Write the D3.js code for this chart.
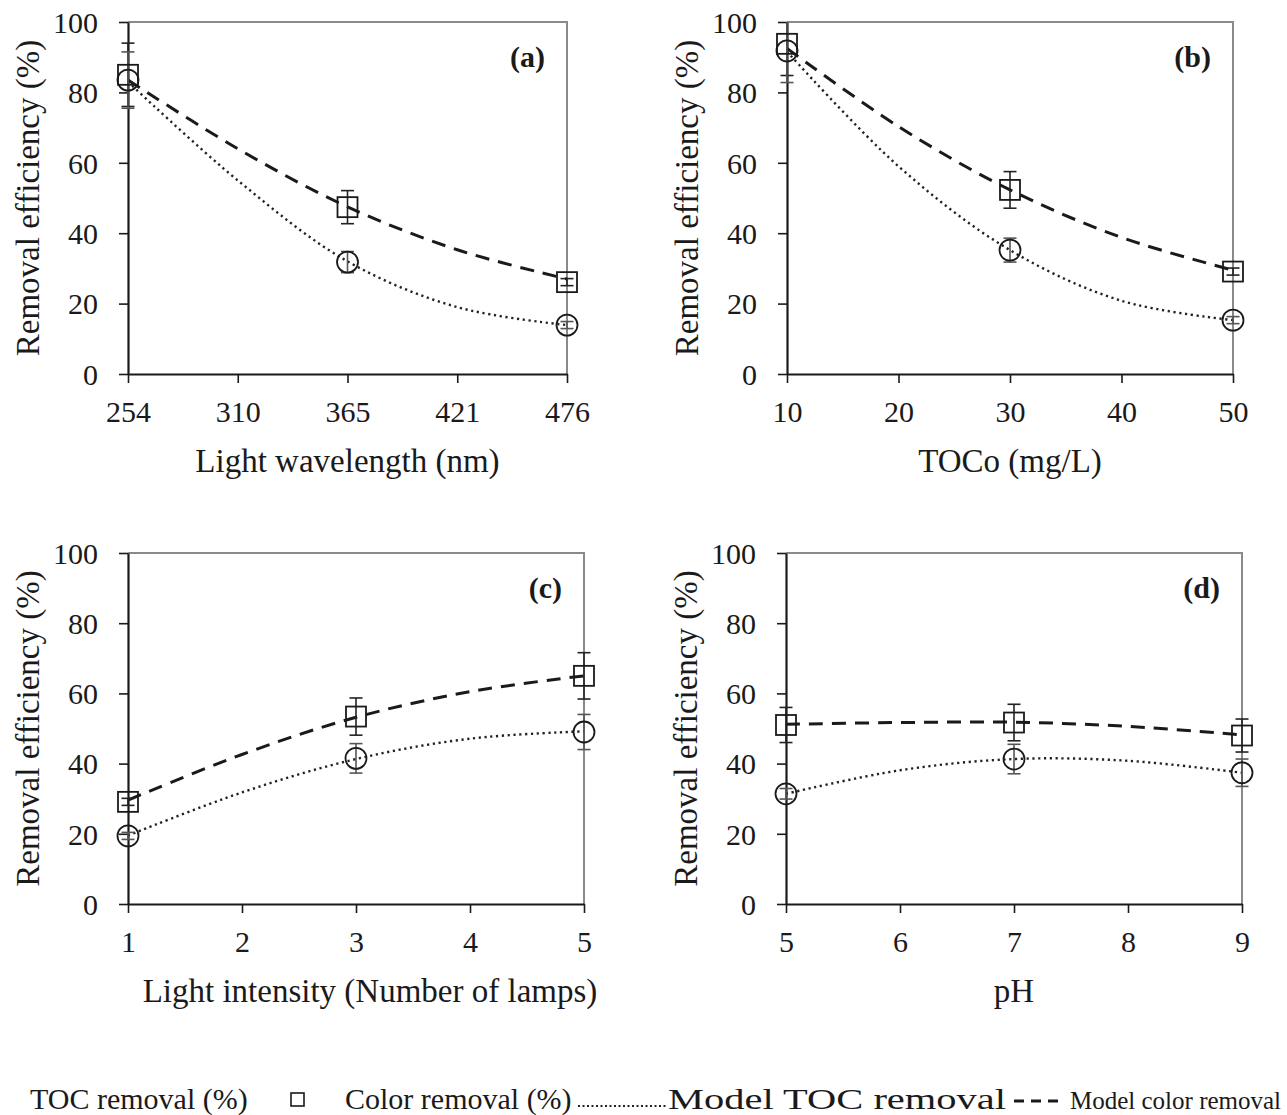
<!DOCTYPE html>
<html>
<head>
<meta charset="utf-8">
<script src="https://cdn.jsdelivr.net/npm/d3@7"></script>
<style>
  html, body { margin: 0; padding: 0; background: #fff; }
  svg { display: block; }
  svg text { font-family: "Liberation Serif", "Times New Roman", serif; }
</style>
</head>
<body>
<svg id="chart" width="1287" height="1115"></svg>
<script>
// ---------- DATA ----------
const yTicks = [0, 20, 40, 60, 80, 100];

// (a) Light wavelength
const xA = [254, 365, 476];
const tocA = [83.5, 31.8, 13.9];
const tocErrA = [8, 3, 1];
const colorA = [85, 47.4, 26.1];
const colorErrA = [9, 4.7, 1];
const modelXA = [254, 309.5, 365, 420.5, 476];
const modelTocA = [83.0, 55.0, 32.0, 19.0, 13.9];
const modelColorA = [83.5, 64.0, 47.5, 35.3, 27.0];
const tickValsA = [254, 309.5, 365, 420.5, 476];
const tickLabelsA = ["254", "310", "365", "421", "476"];

// (b) TOCo
const xB = [10, 30, 50];
const tocB = [91.8, 35.2, 15.3];
const tocErrB = [9, 3.4, 1];
const colorB = [93.8, 52.3, 29.1];
const colorErrB = [9, 5.2, 1];
const modelXB = [10, 20, 30, 40, 50];
const modelTocB = [91.6, 59.0, 35.2, 20.8, 15.3];
const modelColorB = [92.5, 70.3, 52.3, 38.8, 29.5];
const tickValsB = [10, 20, 30, 40, 50];
const tickLabelsB = ["10", "20", "30", "40", "50"];

// (c) Light intensity
const xC = [1, 3, 5];
const tocC = [19.4, 41.5, 49.0];
const tocErrC = [1, 4.2, 5];
const colorC = [29.1, 53.4, 65.0];
const colorErrC = [1, 5.3, 6.6];
const modelXC = [1, 2, 3, 4, 5];
const modelTocC = [19.5, 31.8, 41.3, 47.1, 49.2];
const modelColorC = [29.6, 42.6, 53.2, 60.5, 65.0];
const tickValsC = [1, 2, 3, 4, 5];
const tickLabelsC = ["1", "2", "3", "4", "5"];

// (d) pH
const xD = [5, 7, 9];
const tocD = [31.4, 41.3, 37.4];
const tocErrD = [1.5, 4.2, 3.9];
const colorD = [51.0, 51.7, 48.0];
const colorErrD = [5, 5.2, 4.7];
const modelXD = [5, 6, 7, 8, 9];
const modelTocD = [31.4, 38.1, 41.3, 40.8, 37.4];
const modelColorD = [51.2, 51.7, 51.8, 50.6, 48.2];
const tickValsD = [5, 6, 7, 8, 9];
const tickLabelsD = ["5", "6", "7", "8", "9"];

const panelLabels = ["(a)", "(b)", "(c)", "(d)"];
const xTitles = ["Light wavelength (nm)", "TOCo (mg/L)", "Light intensity (Number of lamps)", "pH"];
const yTitle = "Removal efficiency (%)";
const legendLabels = ["TOC removal (%)", "Color removal (%)", "Model TOC removal", "Model color removal"];

// ---------- LAYOUT ----------
const panels = [
  { box: [128, 567, 22, 374], x: xA, toc: tocA, tocErr: tocErrA, col: colorA, colErr: colorErrA,
    mx: modelXA, mToc: modelTocA, mCol: modelColorA, tv: tickValsA, tl: tickLabelsA, titleDX: 0 },
  { box: [787, 1233, 22, 374], x: xB, toc: tocB, tocErr: tocErrB, col: colorB, colErr: colorErrB,
    mx: modelXB, mToc: modelTocB, mCol: modelColorB, tv: tickValsB, tl: tickLabelsB, titleDX: 0 },
  { box: [128, 584, 553, 904], x: xC, toc: tocC, tocErr: tocErrC, col: colorC, colErr: colorErrC,
    mx: modelXC, mToc: modelTocC, mCol: modelColorC, tv: tickValsC, tl: tickLabelsC, titleDX: 14 },
  { box: [786, 1242, 553, 904], x: xD, toc: tocD, tocErr: tocErrD, col: colorD, colErr: colorErrD,
    mx: modelXD, mToc: modelTocD, mCol: modelColorD, tv: tickValsD, tl: tickLabelsD, titleDX: 0 }
];

const svg = d3.select("#chart");
const INK = "#1a1a1a";
const SERIF = "'Liberation Serif', 'Times New Roman', serif";

panels.forEach((p, i) => {
  const [L, R, T, B] = p.box;
  const x = d3.scaleLinear().domain([p.tv[0], p.tv[p.tv.length - 1]]).range([L, R]);
  const y = d3.scaleLinear().domain([0, 100]).range([B, T]);
  const g = svg.append("g");

  const clipId = "clip" + i;
  svg.append("clipPath").attr("id", clipId).append("rect")
    .attr("x", L - 15).attr("y", T).attr("width", R - L + 30).attr("height", B - T);

  g.append("path")
    .attr("d", `M${L},${T}H${R}V${B}`)
    .attr("fill", "none").attr("stroke", "#8a8a8a").attr("stroke-width", 2);

  const yAxis = g.append("g").attr("transform", `translate(${L},0)`)
    .call(d3.axisLeft(y).tickValues(yTicks).tickSize(9).tickPadding(21).tickSizeOuter(0));
  const xAxis = g.append("g").attr("transform", `translate(0,${B})`)
    .call(d3.axisBottom(x).tickValues(p.tv).tickSize(9).tickPadding(18).tickSizeOuter(0)
      .tickFormat((d, k) => p.tl[k]));
  [yAxis, xAxis].forEach(ax => {
    ax.attr("font-family", SERIF);
    ax.select(".domain").attr("stroke", INK).attr("stroke-width", 2.2);
    ax.selectAll(".tick line").attr("stroke", INK).attr("stroke-width", 1.6);
    ax.selectAll(".tick text").attr("fill", INK).style("font-family", SERIF)
      .style("font-size", "30px");
  });
  xAxis.selectAll(".tick text").attr("dy", "0.71em");
  yAxis.selectAll(".tick text").attr("dy", "0.34em");

  g.append("text").attr("x", (L + R) / 2 + p.titleDX).attr("y", B + 98)
    .attr("text-anchor", "middle").attr("fill", INK).style("font-family", SERIF)
    .style("font-size", "33px").text(xTitles[i]);
  g.append("text").attr("transform", `translate(${L - 101},${(T + B) / 2}) rotate(-90)`)
    .attr("text-anchor", "middle").attr("dy", "0.35em").attr("fill", INK).style("font-family", SERIF)
    .style("font-size", "33px").text(yTitle);

  g.append("text").attr("x", R - 22).attr("y", T + 45).attr("text-anchor", "end")
    .attr("fill", INK).style("font-family", SERIF).style("font-size", "30px")
    .style("font-weight", "bold").text(panelLabels[i]);

  const plot = g.append("g").attr("clip-path", `url(#${clipId})`);
  const line = d3.line().x((d, k) => x(p.mx[k])).y(d => y(d)).curve(d3.curveCatmullRom.alpha(0.5));

  plot.append("path").datum(p.mCol).attr("d", line)
    .attr("fill", "none").attr("stroke", INK).attr("stroke-width", 3).attr("stroke-dasharray", "14,9");
  plot.append("path").datum(p.mToc).attr("d", line)
    .attr("fill", "none").attr("stroke", "#222").attr("stroke-width", 2.4).attr("stroke-dasharray", "2.2,3.6");

  const errs = [
    { v: p.col, e: p.colErr, c: "#222" },
    { v: p.toc, e: p.tocErr, c: "#555" }
  ];
  errs.forEach(s => {
    s.v.forEach((v, k) => {
      const cx = x(p.x[k]);
      const eb = plot.append("g").attr("stroke", s.c).attr("stroke-width", 1.6);
      eb.append("line").attr("x1", cx).attr("x2", cx).attr("y1", y(v - s.e[k])).attr("y2", y(v + s.e[k]));
      [v - s.e[k], v + s.e[k]].forEach(w => {
        eb.append("line").attr("x1", cx - 6.5).attr("x2", cx + 6.5).attr("y1", y(w)).attr("y2", y(w));
      });
    });
  });

  const half = 10;
  p.col.forEach((v, k) => {
    g.append("rect").attr("x", x(p.x[k]) - half).attr("y", y(v) - half)
      .attr("width", 2 * half).attr("height", 2 * half)
      .attr("fill", "none").attr("stroke", INK).attr("stroke-width", 1.8);
  });
  p.toc.forEach((v, k) => {
    g.append("circle").attr("cx", x(p.x[k])).attr("cy", y(v)).attr("r", 10.5)
      .attr("fill", "none").attr("stroke", INK).attr("stroke-width", 1.8);
  });
});

// ---------- LEGEND ----------
const lg = svg.append("g").style("font-size", "30px").style("font-family", SERIF).attr("fill", INK);
const LY = 1109;
lg.append("text").attr("x", 30).attr("y", LY).text(legendLabels[0]);
lg.append("rect").attr("x", 291).attr("y", LY - 16).attr("width", 13).attr("height", 13)
  .attr("fill", "none").attr("stroke", INK).attr("stroke-width", 1.6);
lg.append("text").attr("x", 345).attr("y", LY).text(legendLabels[1]);
lg.append("line").attr("x1", 578).attr("x2", 666).attr("y1", LY - 3).attr("y2", LY - 3)
  .attr("stroke", "#222").attr("stroke-width", 2).attr("stroke-dasharray", "2,2.5");
lg.append("text").attr("x", 668).attr("y", LY).attr("textLength", 338).attr("lengthAdjust", "spacingAndGlyphs")
  .text(legendLabels[2]);
lg.append("line").attr("x1", 1014).attr("x2", 1064).attr("y1", LY - 8).attr("y2", LY - 8)
  .attr("stroke", INK).attr("stroke-width", 3).attr("stroke-dasharray", "10,7");
lg.append("text").attr("x", 1070).attr("y", LY).style("font-size", "25px").text(legendLabels[3]);
</script>
</body>
</html>
